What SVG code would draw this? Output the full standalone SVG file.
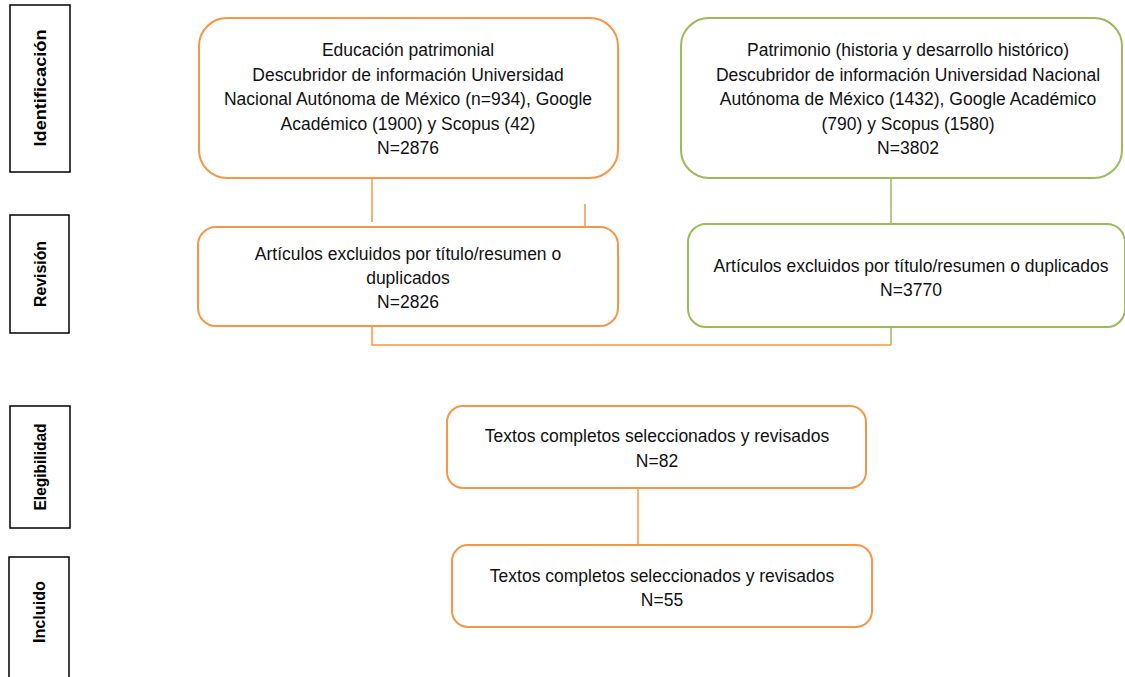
<svg xmlns="http://www.w3.org/2000/svg" width="1125" height="677" viewBox="0 0 1125 677">
<style>
.side{fill:#fff;stroke:#000;stroke-width:1.5}
.sl{font-family:"Liberation Sans",Arial,sans-serif;font-size:16px;font-weight:bold;fill:#000;text-anchor:middle}
.or{fill:#fff;stroke:#F79646;stroke-width:2}
.gr{fill:#fff;stroke:#9BBB59;stroke-width:2}
.t{font-family:"Liberation Sans",Arial,sans-serif;font-size:17.5px;fill:#111;text-anchor:middle}
.co{stroke:#F79646;stroke-width:1.5;fill:none}
.cg{stroke:#9BBB59;stroke-width:1.5;fill:none}
</style>
<rect width="1125" height="677" fill="#fff"/>
<g id="lab-identificacion"><rect class="side" x="10" y="5" width="60" height="167"/><text class="sl" transform="translate(46,88) rotate(-90)" textLength="117" lengthAdjust="spacingAndGlyphs">Identificación</text></g>
<g id="lab-revision"><rect class="side" x="10" y="215" width="59" height="118"/><text class="sl" transform="translate(46,274) rotate(-90)" textLength="66" lengthAdjust="spacingAndGlyphs">Revisión</text></g>
<g id="lab-elegibilidad"><rect class="side" x="10" y="406" width="60" height="122"/><text class="sl" transform="translate(46,467) rotate(-90)" textLength="87" lengthAdjust="spacingAndGlyphs">Elegibilidad</text></g>
<g id="lab-incluido"><rect class="side" x="9" y="557" width="60" height="130"/><text class="sl" transform="translate(45,612) rotate(-90)" textLength="62" lengthAdjust="spacingAndGlyphs">Incluido</text></g>
<g id="connectors">
<line class="co" x1="372" y1="178" x2="372" y2="222"/>
<line class="co" x1="585" y1="204" x2="585" y2="227"/>
<line class="cg" x1="891" y1="178" x2="891" y2="224"/>
<polyline class="co" points="372,326 372,345 891,345"/>
<line class="cg" x1="891" y1="327" x2="891" y2="345"/>
<line class="co" x1="638" y1="488" x2="638" y2="545"/>
</g>
<g id="n1"><rect class="or" x="199" y="18" width="419" height="160" rx="28"/>
<text class="t"><tspan x="408" y="56">Educación patrimonial</tspan><tspan x="408" y="81">Descubridor de información Universidad</tspan><tspan x="408" y="105">Nacional Autónoma de México (n=934), Google</tspan><tspan x="408" y="130">Académico (1900) y Scopus (42)</tspan><tspan x="408" y="154">N=2876</tspan></text></g>
<g id="n2"><rect class="gr" x="681" y="18" width="441" height="160" rx="28"/>
<text class="t"><tspan x="908" y="56">Patrimonio (historia y desarrollo histórico)</tspan><tspan x="908" y="81">Descubridor de información Universidad Nacional</tspan><tspan x="908" y="105">Autónoma de México (1432), Google Académico</tspan><tspan x="908" y="130">(790) y Scopus (1580)</tspan><tspan x="908" y="154">N=3802</tspan></text></g>
<g id="n3"><rect class="or" x="198" y="227" width="420" height="99" rx="18"/>
<text class="t"><tspan x="408" y="260">Artículos excluidos por título/resumen o</tspan><tspan x="408" y="284">duplicados</tspan><tspan x="408" y="308">N=2826</tspan></text></g>
<g id="n4"><rect class="gr" x="688" y="224" width="437" height="103" rx="18"/>
<text class="t"><tspan x="911" y="272">Artículos excluidos por título/resumen o duplicados</tspan><tspan x="911" y="296">N=3770</tspan></text></g>
<g id="n5"><rect class="or" x="447" y="406" width="419" height="82" rx="16"/>
<text class="t"><tspan x="657" y="442">Textos completos seleccionados y revisados</tspan><tspan x="657" y="467">N=82</tspan></text></g>
<g id="n6"><rect class="or" x="452" y="545" width="420" height="82" rx="16"/>
<text class="t"><tspan x="662" y="582">Textos completos seleccionados y revisados</tspan><tspan x="662" y="606">N=55</tspan></text></g>
</svg>
